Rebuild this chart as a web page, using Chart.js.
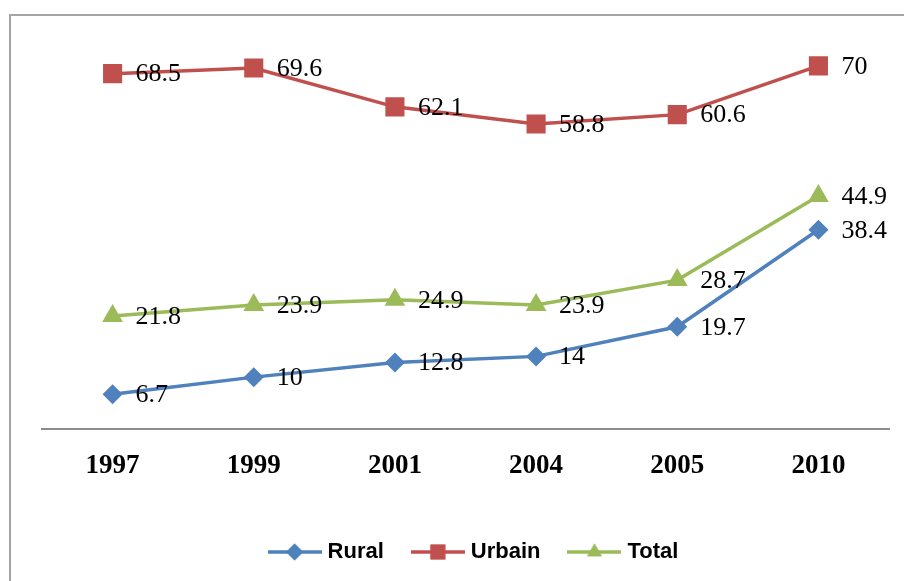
<!DOCTYPE html>
<html>
<head>
<meta charset="utf-8">
<script src="https://cdn.jsdelivr.net/npm/chart.js@4.4.0/dist/chart.umd.min.js"></script>
<style>
    html, body { margin: 0; padding: 0; background: #fff; overflow: hidden; }
    #frame { position: absolute; left: 9px; top: 14px; width: 1200px; height: 900px; border: 2px solid #a5a5a5; }
    #chart { position: absolute; left: 0; top: 0; }
</style>
</head>
<body>
<div id="frame"></div>
<canvas id="chart" width="904" height="581"></canvas>
<script>
// Data
const years = ['1997', '1999', '2001', '2004', '2005', '2010'];
const rural = [6.7, 10, 12.8, 14, 19.7, 38.4];
const urbain = [68.5, 69.6, 62.1, 58.8, 60.6, 70];
const total = [21.8, 23.9, 24.9, 23.9, 28.7, 44.9];
const seriesNames = ['Rural', 'Urbain', 'Total'];

const colors = ['#4F81BD', '#C0504D', '#9BBB59'];
const markers = ['rectRot', 'rect', 'triangle'];

// little "line + marker" icons for the legend, like Excel draws them
function legendIcon(color, marker) {
    const c = document.createElement('canvas');
    c.width = 54;
    c.height = 22;
    const ctx = c.getContext('2d');
    ctx.strokeStyle = color;
    ctx.lineWidth = 3.5;
    ctx.beginPath();
    ctx.moveTo(0, 11);
    ctx.lineTo(54, 11);
    ctx.stroke();
    ctx.fillStyle = color;
    Chart.helpers.drawPoint(ctx, { pointStyle: marker, radius: marker === 'rect' ? 10.5 : 8.5, borderWidth: 0, rotation: 0 }, 27, 11);
    ctx.fill();
    return c;
}
const legendIcons = colors.map((col, i) => legendIcon(col, markers[i]));

// value labels to the right of each point
const valueLabels = {
    id: 'valueLabels',
    afterDatasetsDraw(chart) {
        const ctx = chart.ctx;
        ctx.save();
        ctx.font = '26px "Liberation Serif", serif';
        ctx.fillStyle = '#000';
        ctx.textAlign = 'left';
        ctx.textBaseline = 'middle';
        chart.data.datasets.forEach((ds, i) => {
            chart.getDatasetMeta(i).data.forEach((pt, j) => {
                ctx.fillText(String(ds.data[j]), pt.x + 23, pt.y + 1);
            });
        });
        ctx.restore();
    }
};

// the legend row sits a bit right of centre in the original
const legendNudge = {
    id: 'legendNudge',
    afterLayout(chart) {
        chart.legend.left += 10;
        chart.legend.right += 10;
    }
};

const allSeries = [rural, urbain, total];

new Chart('chart', {
    type: 'line',
    data: {
        labels: years,
        datasets: allSeries.map((vals, i) => ({
            label: seriesNames[i],
            data: vals,
            borderColor: colors[i],
            backgroundColor: colors[i],
            borderWidth: 3.5,
            pointStyle: markers[i],
            pointRadius: [10, 13.5, 12][i],
            pointBorderWidth: 0,
            pointBackgroundColor: colors[i],
            tension: 0
        }))
    },
    options: {
        responsive: false,
        animation: false,
        layout: { padding: { top: 14, left: 42, right: 15, bottom: 8 } },
        plugins: {
            tooltip: { enabled: false },
            legend: {
                position: 'bottom',
                maxHeight: 75,
                labels: {
                    usePointStyle: true,
                    pointStyleWidth: 44,
                    padding: 32,
                    color: '#000',
                    font: { family: '"Liberation Sans", Arial, sans-serif', size: 22, weight: 'bold' },
                    generateLabels: chart => Chart.defaults.plugins.legend.labels.generateLabels(chart)
                        .map((item, i) => ({ ...item, pointStyle: legendIcons[i] }))
                }
            }
        },
        scales: {
            x: {
                offset: true,
                grid: { display: false, drawTicks: false },
                border: { display: true, color: '#8c8c8c', width: 2 },
                ticks: {
                    color: '#000',
                    padding: 21,
                    font: { family: '"Liberation Serif", serif', size: 27, weight: 'bold' }
                },
                afterFit: scale => { scale.height = 80; }
            },
            y: {
                display: false,
                min: 0,
                max: 80
            }
        }
    },
    plugins: [valueLabels, legendNudge]
});
</script>
</body>
</html>
